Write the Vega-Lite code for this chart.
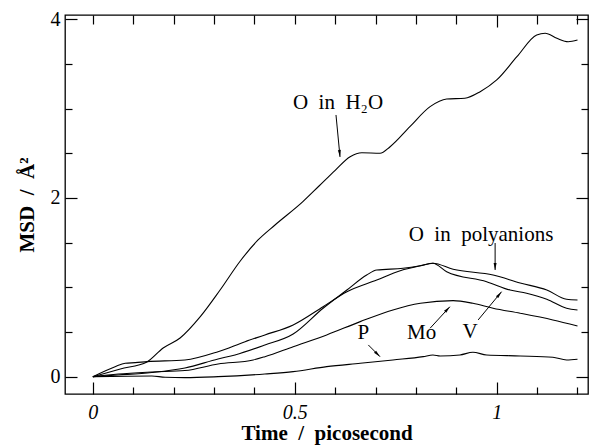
{
  "$schema": "https://vega.github.io/schema/vega-lite/v6.json",
  "width": 523,
  "height": 379,
  "autosize": {"type": "none"},
  "padding": {"left": 65, "top": 15, "right": 9, "bottom": 52},
  "background": "white",
  "config": {
    "view": {"stroke": "black", "strokeWidth": 1.3},
    "font": "Liberation Serif",
    "axis": {"domain": false, "grid": false, "tickColor": "black", "tickWidth": 1.2, "labelColor": "black", "titleColor": "black"}
  },
  "datasets": {
    "msd": [
      {"series": "O in H2O", "t": 0, "msd": 0},
      {"series": "O in H2O", "t": 0.068, "msd": 0.086},
      {"series": "O in H2O", "t": 0.134, "msd": 0.165},
      {"series": "O in H2O", "t": 0.174, "msd": 0.321},
      {"series": "O in H2O", "t": 0.216, "msd": 0.433},
      {"series": "O in H2O", "t": 0.266, "msd": 0.672},
      {"series": "O in H2O", "t": 0.315, "msd": 0.97},
      {"series": "O in H2O", "t": 0.365, "msd": 1.295},
      {"series": "O in H2O", "t": 0.409, "msd": 1.53},
      {"series": "O in H2O", "t": 0.451, "msd": 1.698},
      {"series": "O in H2O", "t": 0.52, "msd": 1.959},
      {"series": "O in H2O", "t": 0.56, "msd": 2.134},
      {"series": "O in H2O", "t": 0.6, "msd": 2.31},
      {"series": "O in H2O", "t": 0.637, "msd": 2.462},
      {"series": "O in H2O", "t": 0.666, "msd": 2.507},
      {"series": "O in H2O", "t": 0.711, "msd": 2.5},
      {"series": "O in H2O", "t": 0.736, "msd": 2.574},
      {"series": "O in H2O", "t": 0.785, "msd": 2.798},
      {"series": "O in H2O", "t": 0.835, "msd": 3.022},
      {"series": "O in H2O", "t": 0.876, "msd": 3.108},
      {"series": "O in H2O", "t": 0.921, "msd": 3.116},
      {"series": "O in H2O", "t": 0.959, "msd": 3.19},
      {"series": "O in H2O", "t": 1.0, "msd": 3.321},
      {"series": "O in H2O", "t": 1.05, "msd": 3.581},
      {"series": "O in H2O", "t": 1.099, "msd": 3.824},
      {"series": "O in H2O", "t": 1.12, "msd": 3.843},
      {"series": "O in H2O", "t": 1.149, "msd": 3.787},
      {"series": "O in H2O", "t": 1.177, "msd": 3.749},
      {"series": "O in H2O", "t": 1.2, "msd": 3.768},

      {"series": "O in polyanions", "t": 0, "msd": 0},
      {"series": "O in polyanions", "t": 0.055, "msd": 0.112},
      {"series": "O in polyanions", "t": 0.08, "msd": 0.15},
      {"series": "O in polyanions", "t": 0.105, "msd": 0.157},
      {"series": "O in polyanions", "t": 0.134, "msd": 0.168},
      {"series": "O in polyanions", "t": 0.228, "msd": 0.187},
      {"series": "O in polyanions", "t": 0.31, "msd": 0.28},
      {"series": "O in polyanions", "t": 0.377, "msd": 0.392},
      {"series": "O in polyanions", "t": 0.426, "msd": 0.467},
      {"series": "O in polyanions", "t": 0.496, "msd": 0.579},
      {"series": "O in polyanions", "t": 0.57, "msd": 0.783},
      {"series": "O in polyanions", "t": 0.629, "msd": 0.951},
      {"series": "O in polyanions", "t": 0.703, "msd": 1.082},
      {"series": "O in polyanions", "t": 0.761, "msd": 1.186},
      {"series": "O in polyanions", "t": 0.811, "msd": 1.242},
      {"series": "O in polyanions", "t": 0.842, "msd": 1.269},
      {"series": "O in polyanions", "t": 0.892, "msd": 1.202},
      {"series": "O in polyanions", "t": 0.991, "msd": 1.138},
      {"series": "O in polyanions", "t": 1.058, "msd": 1.049},
      {"series": "O in polyanions", "t": 1.124, "msd": 0.97},
      {"series": "O in polyanions", "t": 1.173, "msd": 0.866},
      {"series": "O in polyanions", "t": 1.2, "msd": 0.858},

      {"series": "V", "t": 0, "msd": 0},
      {"series": "V", "t": 0.063, "msd": 0.019},
      {"series": "V", "t": 0.146, "msd": 0.047},
      {"series": "V", "t": 0.228, "msd": 0.097},
      {"series": "V", "t": 0.31, "msd": 0.198},
      {"series": "V", "t": 0.352, "msd": 0.243},
      {"series": "V", "t": 0.426, "msd": 0.355},
      {"series": "V", "t": 0.496, "msd": 0.478},
      {"series": "V", "t": 0.57, "msd": 0.766},
      {"series": "V", "t": 0.629, "msd": 0.97},
      {"series": "V", "t": 0.678, "msd": 1.138},
      {"series": "V", "t": 0.703, "msd": 1.194},
      {"series": "V", "t": 0.768, "msd": 1.213},
      {"series": "V", "t": 0.811, "msd": 1.242},
      {"series": "V", "t": 0.842, "msd": 1.269},
      {"series": "V", "t": 0.876, "msd": 1.175},
      {"series": "V", "t": 0.975, "msd": 1.063},
      {"series": "V", "t": 1.033, "msd": 0.97},
      {"series": "V", "t": 1.074, "msd": 0.933},
      {"series": "V", "t": 1.124, "msd": 0.866},
      {"series": "V", "t": 1.173, "msd": 0.766},
      {"series": "V", "t": 1.2, "msd": 0.747},

      {"series": "Mo", "t": 0, "msd": 0},
      {"series": "Mo", "t": 0.063, "msd": 0.03},
      {"series": "Mo", "t": 0.146, "msd": 0.053},
      {"series": "Mo", "t": 0.228, "msd": 0.069},
      {"series": "Mo", "t": 0.31, "msd": 0.142},
      {"series": "Mo", "t": 0.397, "msd": 0.187},
      {"series": "Mo", "t": 0.426, "msd": 0.224},
      {"series": "Mo", "t": 0.496, "msd": 0.336},
      {"series": "Mo", "t": 0.579, "msd": 0.467},
      {"series": "Mo", "t": 0.662, "msd": 0.616},
      {"series": "Mo", "t": 0.743, "msd": 0.747},
      {"series": "Mo", "t": 0.811, "msd": 0.821},
      {"series": "Mo", "t": 0.892, "msd": 0.851},
      {"series": "Mo", "t": 0.941, "msd": 0.821},
      {"series": "Mo", "t": 0.991, "msd": 0.766},
      {"series": "Mo", "t": 1.058, "msd": 0.71},
      {"series": "Mo", "t": 1.139, "msd": 0.635},
      {"series": "Mo", "t": 1.2, "msd": 0.567},

      {"series": "P", "t": 0, "msd": 0},
      {"series": "P", "t": 0.146, "msd": 0.008},
      {"series": "P", "t": 0.179, "msd": -0.007},
      {"series": "P", "t": 0.228, "msd": -0.011},
      {"series": "P", "t": 0.31, "msd": 0.0},
      {"series": "P", "t": 0.426, "msd": 0.03},
      {"series": "P", "t": 0.496, "msd": 0.056},
      {"series": "P", "t": 0.579, "msd": 0.112},
      {"series": "P", "t": 0.662, "msd": 0.15},
      {"series": "P", "t": 0.743, "msd": 0.187},
      {"series": "P", "t": 0.818, "msd": 0.224},
      {"series": "P", "t": 0.842, "msd": 0.243},
      {"series": "P", "t": 0.86, "msd": 0.232},
      {"series": "P", "t": 0.909, "msd": 0.243},
      {"series": "P", "t": 0.941, "msd": 0.273},
      {"series": "P", "t": 0.975, "msd": 0.243},
      {"series": "P", "t": 1.058, "msd": 0.232},
      {"series": "P", "t": 1.139, "msd": 0.217},
      {"series": "P", "t": 1.173, "msd": 0.187},
      {"series": "P", "t": 1.2, "msd": 0.195}
    ],
    "labels": [
      {"label": "O\u00a0 in\u00a0 H₂O", "t": 0.607, "msd": 3.062},
      {"label": "O\u00a0 in\u00a0 polyanions", "t": 0.961, "msd": 1.586},
      {"label": "P", "t": 0.67, "msd": 0.486},
      {"label": "Mo", "t": 0.814, "msd": 0.486},
      {"label": "V", "t": 0.934, "msd": 0.504}
    ],
    "arrows": [
      {"name": "H2O", "t": 0.602, "msd": 2.929, "t2": 0.612, "msd2": 2.459},
      {"name": "poly", "t": 0.996, "msd": 1.496, "t2": 0.996, "msd2": 1.194},
      {"name": "Mo", "t": 0.835, "msd": 0.542, "t2": 0.884, "msd2": 0.783},
      {"name": "V", "t": 0.954, "msd": 0.635, "t2": 1.012, "msd2": 0.951},
      {"name": "P", "t": 0.682, "msd": 0.355, "t2": 0.711, "msd2": 0.224}
    ]
  },
  "resolve": {"axis": {"x": "independent", "y": "independent"}},
  "layer": [
    {
      "data": {"name": "msd"},
      "mark": {"type": "line", "color": "black", "strokeWidth": 1.1, "interpolate": "monotone"},
      "encoding": {
        "x": {"field": "t", "type": "quantitative",
              "scale": {"domain": [-0.069, 1.226], "nice": false, "zero": false},
              "axis": {"orient": "bottom", "values": [0, 0.1, 0.2, 0.3, 0.4, 0.5, 0.6, 0.7, 0.8, 0.9, 1, 1.1, 1.2],
                       "labelExpr": "abs(datum.value*2 - round(datum.value*2)) < 0.001 ? format(datum.value, '~g') : ''",
                       "tickSize": {"condition": {"test": "abs(datum.value*2 - round(datum.value*2)) < 0.001", "value": -12}, "value": -7},
                       "labelPadding": 20, "labelFontSize": 20, "labelFontStyle": "italic", "labelFont": "Liberation Serif",
                       "title": "Time\u00a0 /\u00a0 picosecond", "titleFont": "Liberation Serif", "titleFontSize": 21, "titleFontWeight": "bold", "titlePadding": 0, "labelFlush": false}},
        "y": {"field": "msd", "type": "quantitative",
              "scale": {"domain": [-0.194, 4.048], "nice": false, "zero": false},
              "axis": {"orient": "left", "values": [0, 0.5, 1, 1.5, 2, 2.5, 3, 3.5, 4],
                       "labelExpr": "abs(datum.value/2 - round(datum.value/2)) < 0.001 ? format(datum.value, '~g') : ''",
                       "tickSize": {"condition": {"test": "abs(datum.value/2 - round(datum.value/2)) < 0.001", "value": -12}, "value": -7},
                       "labelPadding": 17, "labelFontSize": 20, "labelFont": "Liberation Serif",
                       "title": "MSD\u00a0 /\u00a0 Å²", "titleFont": "Liberation Serif", "titleFontSize": 21, "titleFontWeight": "bold", "titlePadding": 13, "labelFlush": false}},
        "detail": {"field": "series"}
      }
    },
    {
      "data": {"name": "msd"},
      "mark": {"type": "line", "opacity": 0},
      "encoding": {
        "x": {"field": "t", "type": "quantitative", "axis": {"orient": "top", "values": [0, 0.1, 0.2, 0.3, 0.4, 0.5, 0.6, 0.7, 0.8, 0.9, 1, 1.1, 1.2],
              "tickSize": {"condition": {"test": "abs(datum.value - 1) < 0.001", "value": -12}, "value": -9}, "labels": false, "title": null}},
        "y": {"field": "msd", "type": "quantitative", "axis": {"orient": "right", "values": [0, 0.5, 1, 1.5, 2, 2.5, 3, 3.5, 4],
              "tickSize": {"condition": {"test": "abs(datum.value/2 - round(datum.value/2)) < 0.001", "value": -12}, "value": -7}, "labels": false, "title": null}},
        "detail": {"field": "series"}
      }
    },
    {
      "data": {"name": "labels"},
      "mark": {"type": "text", "font": "Liberation Serif", "fontSize": 21, "color": "black", "align": "center", "baseline": "middle"},
      "encoding": {
        "x": {"field": "t", "type": "quantitative", "axis": null},
        "y": {"field": "msd", "type": "quantitative", "axis": null},
        "text": {"field": "label"}
      }
    },
    {
      "data": {"name": "arrows"},
      "mark": {"type": "rule", "color": "black", "strokeWidth": 1},
      "encoding": {
        "x": {"field": "t", "type": "quantitative", "axis": null},
        "y": {"field": "msd", "type": "quantitative", "axis": null},
        "x2": {"field": "t2"},
        "y2": {"field": "msd2"}
      }
    },
    {
      "data": {"name": "arrows"},
      "transform": [{"filter": "datum.name === 'H2O'"}],
      "mark": {"type": "point", "shape": "M0,0L-0.3,-1.4L0.3,-1.4Z", "filled": true, "color": "black", "opacity": 1, "size": 100, "angle": -5.4},
      "encoding": {"x": {"field": "t2", "type": "quantitative", "axis": null}, "y": {"field": "msd2", "type": "quantitative", "axis": null}}
    },
    {
      "data": {"name": "arrows"},
      "transform": [{"filter": "datum.name === 'poly'"}],
      "mark": {"type": "point", "shape": "M0,0L-0.3,-1.4L0.3,-1.4Z", "filled": true, "color": "black", "opacity": 1, "size": 100, "angle": 0},
      "encoding": {"x": {"field": "t2", "type": "quantitative", "axis": null}, "y": {"field": "msd2", "type": "quantitative", "axis": null}}
    },
    {
      "data": {"name": "arrows"},
      "transform": [{"filter": "datum.name === 'Mo'"}],
      "mark": {"type": "point", "shape": "M0,0L-0.3,-1.4L0.3,-1.4Z", "filled": true, "color": "black", "opacity": 1, "size": 100, "angle": -137.2},
      "encoding": {"x": {"field": "t2", "type": "quantitative", "axis": null}, "y": {"field": "msd2", "type": "quantitative", "axis": null}}
    },
    {
      "data": {"name": "arrows"},
      "transform": [{"filter": "datum.name === 'V'"}],
      "mark": {"type": "point", "shape": "M0,0L-0.3,-1.4L0.3,-1.4Z", "filled": true, "color": "black", "opacity": 1, "size": 100, "angle": -140.4},
      "encoding": {"x": {"field": "t2", "type": "quantitative", "axis": null}, "y": {"field": "msd2", "type": "quantitative", "axis": null}}
    },
    {
      "data": {"name": "arrows"},
      "transform": [{"filter": "datum.name === 'P'"}],
      "mark": {"type": "point", "shape": "M0,0L-0.3,-1.4L0.3,-1.4Z", "filled": true, "color": "black", "opacity": 1, "size": 100, "angle": -45},
      "encoding": {"x": {"field": "t2", "type": "quantitative", "axis": null}, "y": {"field": "msd2", "type": "quantitative", "axis": null}}
    }
  ]
}
